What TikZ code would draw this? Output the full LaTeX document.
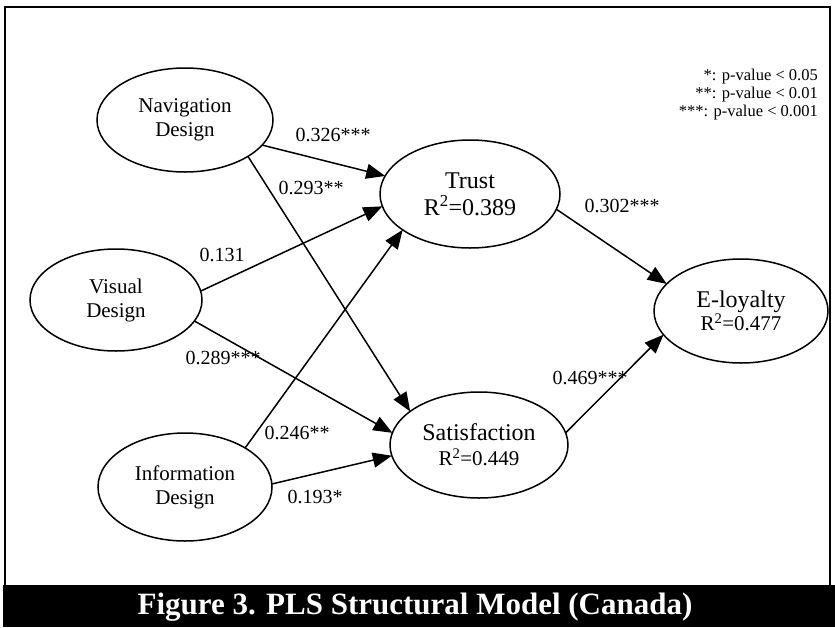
\documentclass[tikz,border=0pt]{standalone}
\usepackage{fontspec}
\setmainfont{Liberation Serif}
\usetikzlibrary{shapes.geometric,arrows.meta}
\begin{document}
\begin{tikzpicture}[x=1pt,y=-1pt,
  lv/.style={ellipse,draw,line width=1.5pt,inner sep=0pt,outer sep=0pt,align=center},
  lvsmall/.style={lv,font=\fontsize{21}{24}\selectfont},
  conn/.style={line width=1.5pt,-{Triangle[length=19pt,width=15pt]}},
  coef/.style={inner sep=0pt,font=\fontsize{20}{22}\selectfont},
  leg/.style={inner sep=0pt,anchor=east,font=\fontsize{16.5}{18}\selectfont}]
\useasboundingbox (0,0) rectangle (835,627);
% frame and caption bar
\fill[black] (3,585) rectangle (835,627);
\draw[line width=2.2pt] (5,586) -- (5,7) -- (830,7) -- (830,586);
\node[text=white,inner sep=0pt,font=\bfseries\fontsize{31}{33}\selectfont] (title) at (415,607) {Figure 3. PLS Structural Model (Canada)};
% legend
\node[leg] (lg1) at (818,77) {*: p-value < 0.05};
\node[leg] (lg2) at (818,95) {**: p-value < 0.01};
\node[leg] (lg3) at (818,113) {***: p-value < 0.001};
% latent variables
\node[lvsmall,minimum width=176pt,minimum height=104pt] (nav) at (185,120) {Navigation\\Design};
\node[lvsmall,minimum width=172pt,minimum height=102pt] (vis) at (116,300) {Visual\\Design};
\node[lvsmall,minimum width=174pt,minimum height=108pt] (inf) at (185,487) {Information\\Design};
\node[lv,minimum width=180pt,minimum height=108pt,font=\fontsize{24}{27}\selectfont] (tru) at (470,194) {Trust\\R\textsuperscript{2}=0.389};
\node[lv,minimum width=178pt,minimum height=106pt,font=\fontsize{24}{25}\selectfont] (sat) at (479,445) {Satisfaction\\{\fontsize{21}{25}\selectfont R\textsuperscript{2}=0.449}};
\node[lv,minimum width=174pt,minimum height=104pt,font=\fontsize{24}{23}\selectfont] (eloy) at (741,311) {E-loyalty\\{\fontsize{21}{23}\selectfont R\textsuperscript{2}=0.477}};
% paths
\draw[conn] (nav.-18) -- (tru.168);
\draw[conn] (nav.-30) -- (sat.154);
\draw[conn] (vis.6) -- (tru.188);
\draw[conn] (vis.-15) -- (sat.172);
\draw[conn] (inf.33) -- (tru.208);
\draw[conn] (inf.2) -- (sat.187);
\draw[conn] (tru.-10) -- (eloy.160);
\draw[conn] (sat.8) -- (eloy.197);
% coefficients
\node[coef] (c1) at (333,135) {0.326***};
\node[coef] (c2) at (311,188) {0.293**};
\node[coef] (c3) at (222,255) {0.131};
\node[coef] (c4) at (223,358) {0.289***};
\node[coef] (c5) at (297,433) {0.246**};
\node[coef] (c6) at (315,497) {0.193*};
\node[coef] (c7) at (622,206) {0.302***};
\node[coef] (c8) at (590,378) {0.469***};
\end{tikzpicture}
\end{document}
